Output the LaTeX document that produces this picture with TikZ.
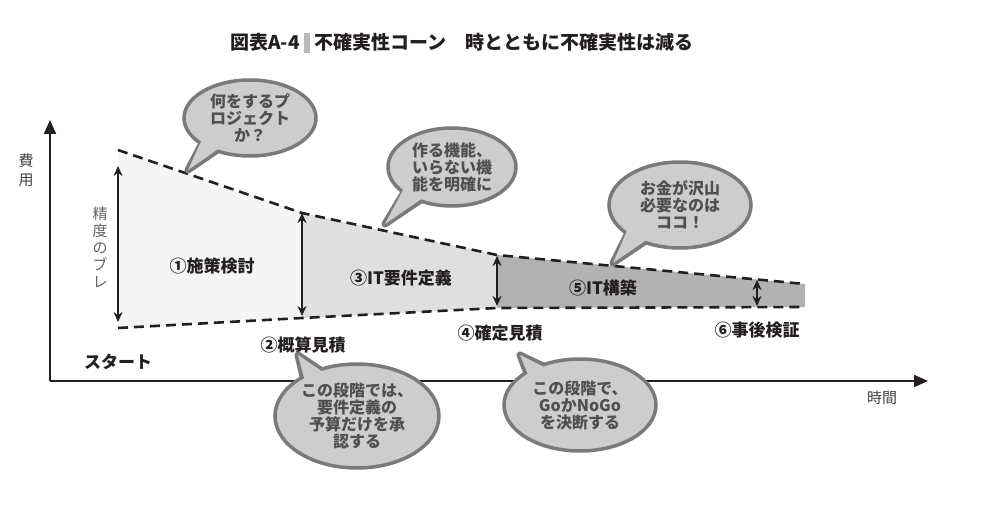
\documentclass[tikz,border=0pt]{standalone}
\usepackage{fontspec}
\setmainfont{Noto Sans CJK JP}
\usetikzlibrary{shapes.geometric,calc,arrows.meta}
\definecolor{bubfill}{HTML}{CDCDCD}
\definecolor{bubline}{HTML}{7A7A7A}
\definecolor{bubtext}{HTML}{505050}
\definecolor{ink}{HTML}{231F20}
\begin{document}
\begin{tikzpicture}[x=1pt,y=-1pt,
  lbl/.style={font=\fontsize{17}{19}\selectfont\bfseries,text=ink},
  bub/.style={ellipse,fill=bubfill,draw=bubline,line width=3.5pt,inner sep=0pt,align=center,
    text=bubtext,font=\fontsize{16}{17}\selectfont\bfseries},
  tail/.style={draw=bubline,line width=7pt,fill=bubfill,line join=round},
  tailfill/.style={fill=bubfill},
  cone/.style={dash pattern=on 10pt off 6pt,line width=2.6pt,ink},
  dbl/.style={{Stealth[length=10pt,width=9pt]}-{Stealth[length=10pt,width=9pt]},line width=2.2pt,ink},
  ax/.style={-{Triangle[length=14pt,width=12pt]},line width=2pt,ink}]
\useasboundingbox (0,0) rectangle (994,508);
% title
\node[font=\fontsize{19}{22}\selectfont\bfseries,text=ink] (title) at (462,43)
  {図表A-4 \textcolor{gray!55}{\rule[-3pt]{6pt}{20pt}} 不確実性コーン　時とともに不確実性は減る};
% cone points
\coordinate (t1) at (118,150); \coordinate (t2) at (302,213); \coordinate (t3) at (497,255); \coordinate (t4) at (805,284);
\coordinate (b1) at (118,328); \coordinate (b2) at (302,318); \coordinate (b3) at (497,308); \coordinate (b4) at (805,307);
\fill[gray!8] (t1)--(t2)--(b2)--(b1)--cycle;
\fill[gray!25] (t2)--(t3)--(b3)--(b2)--cycle;
\fill[gray!60] (t3)--(t4)--(b4)--(b3)--cycle;
\draw[cone] (t1)--(t2)--(t3)--(t4);
\draw[cone] (b1)--(b2)--(b3)--(b4);
% double arrows
\coordinate (a1t) at (118,166); \coordinate (a1b) at (118,322);
\coordinate (a2t) at (302,213); \coordinate (a2b) at (302,316);
\coordinate (a3t) at (497,256); \coordinate (a3b) at (497,306);
\coordinate (a4t) at (757,280); \coordinate (a4b) at (757,306);
\draw[dbl] (a1t)--(a1b); \draw[dbl] (a2t)--(a2b); \draw[dbl] (a3t)--(a3b); \draw[dbl] (a4t)--(a4b);
% axes
\coordinate (o) at (50,381); \coordinate (ytop) at (50,120); \coordinate (xend) at (928,381);
\draw[ax] (o)--(ytop);
\draw[ax] (o)--(xend);
\node[font=\fontsize{15}{19}\selectfont,text=ink!85,align=center] (cost) at (26,170) {費\\用};
\node[font=\fontsize{15}{17}\selectfont,text=ink!70,align=center] (blur) at (100,247) {精\\度\\の\\ブ\\レ};
\node[font=\fontsize{15}{18}\selectfont,text=ink!85] (time) at (882,398) {時間};
\node[lbl] (start) at (118,362) {スタート};
\node[lbl] (s1) at (212,266) {①施策検討};
\node[lbl] (s3) at (401,278) {③IT要件定義};
\node[lbl] (s5) at (603,288) {⑤IT構築};
\node[lbl] (s2) at (303,345) {②概算見積};
\node[lbl] (s4) at (500,333) {④確定見積};
\node[lbl] (s6) at (757,330) {⑥事後検証};
% bubble 1
\coordinate (c1) at (250,118); \coordinate (tip1) at (188,170);
\draw[tail] (tip1)--($(c1)+(-40,10)$)--($(c1)+(-15,20)$)--cycle;
\node[bub,minimum width=132pt,minimum height=76pt] (q1) at (c1) {};
\fill[tailfill] (tip1)--($(c1)+(-42,8)$)--($(c1)+(-13,18)$)--cycle;
\node[bub,draw=none,fill=none] (q1t) at (c1) {何をするプ\\ロジェクト\\か？};
% bubble 2
\coordinate (c2) at (452,167); \coordinate (tip2) at (385,224);
\draw[tail] (tip2)--($(c2)+(-40,12)$)--($(c2)+(-15,22)$)--cycle;
\node[bub,minimum width=128pt,minimum height=78pt] (q2) at (c2) {};
\fill[tailfill] (tip2)--($(c2)+(-42,10)$)--($(c2)+(-13,20)$)--cycle;
\node[bub,draw=none,fill=none] (q2t) at (c2) {作る機能、\\いらない機\\能を明確に};
% bubble 3
\coordinate (c3) at (680,205); \coordinate (tip3) at (613,263);
\draw[tail] (tip3)--($(c3)+(-45,14)$)--($(c3)+(-18,25)$)--cycle;
\node[bub,minimum width=142pt,minimum height=86pt] (q3) at (c3) {};
\fill[tailfill] (tip3)--($(c3)+(-47,12)$)--($(c3)+(-16,23)$)--cycle;
\node[bub,draw=none,fill=none] (q3t) at (c3) {お金が沢山\\必要なのは\\ココ！};
% bubble 4
\coordinate (c4) at (357,416); \coordinate (tip4) at (298,355);
\draw[tail] (tip4)--($(c4)+(-50,-22)$)--($(c4)+(-20,-35)$)--cycle;
\node[bub,minimum width=164pt,minimum height=104pt] (q4) at (c4) {};
\fill[tailfill] (tip4)--($(c4)+(-48,-20)$)--($(c4)+(-18,-33)$)--cycle;
\node[bub,draw=none,fill=none] (q4t) at (c4) {この段階では、\\要件定義の\\予算だけを承\\認する};
% bubble 5
\coordinate (c5) at (580,405); \coordinate (tip5) at (520,355);
\draw[tail] (tip5)--($(c5)+(-48,-18)$)--($(c5)+(-18,-30)$)--cycle;
\node[bub,minimum width=152pt,minimum height=92pt] (q5) at (c5) {};
\fill[tailfill] (tip5)--($(c5)+(-46,-16)$)--($(c5)+(-16,-28)$)--cycle;
\node[bub,draw=none,fill=none] (q5t) at (c5) {この段階で、\\GoかNoGo\\を決断する};
\end{tikzpicture}
\end{document}
